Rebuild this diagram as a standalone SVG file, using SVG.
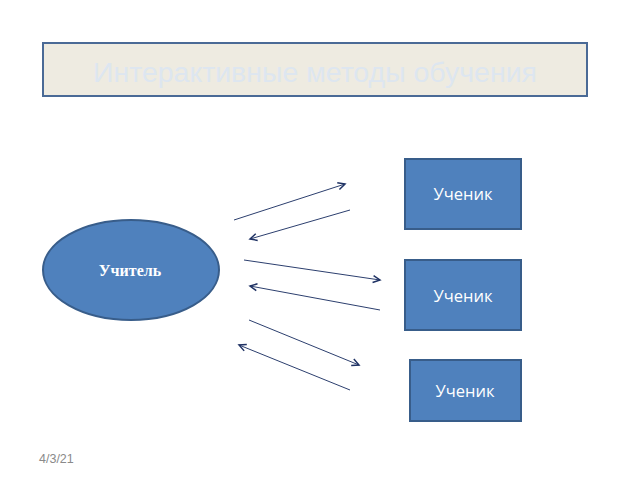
<svg xmlns="http://www.w3.org/2000/svg" width="640" height="480" viewBox="0 0 640 480">
<defs>
<marker id="ah" markerWidth="10" markerHeight="10" refX="8" refY="5" orient="auto" markerUnits="userSpaceOnUse">
<path d="M1,1.5 L8,5 L1,8.5" fill="none" stroke="#1F3264" stroke-width="1.5"/>
</marker>
</defs>
<style>
.conn{stroke:#2C3F6E;stroke-width:1;fill:none;marker-end:url(#ah)}
.box{fill:#4F81BD;stroke:#385D8A;stroke-width:2}
.lbl{fill:#FFFFFF;font-family:"Open Sans","DejaVu Sans",sans-serif;font-size:16.5px;text-anchor:middle}
</style>
<rect width="640" height="480" fill="#FFFFFF"/>
<g id="title">
<rect x="43" y="43" width="544" height="53" fill="#EEEBE1" stroke="#4A6A96" stroke-width="2"/>
<text x="315" y="82" font-family="'Liberation Sans',Arial,sans-serif" font-size="27" fill="#DDE6F0" text-anchor="middle" textLength="444" lengthAdjust="spacingAndGlyphs">Интерактивные методы обучения</text>
</g>
<g id="teacher">
<ellipse cx="131" cy="270" rx="88" ry="50" fill="#4F81BD" stroke="#385D8A" stroke-width="2"/>
<text x="130" y="276" font-family="'Liberation Serif','Times New Roman',serif" font-size="16" font-weight="bold" fill="#FFFFFF" text-anchor="middle">Учитель</text>
</g>
<g id="student1">
<rect class="box" x="405" y="159" width="116" height="70"/>
<text class="lbl" x="463" y="200">Ученик</text>
</g>
<g id="student2">
<rect class="box" x="405" y="260" width="116" height="70"/>
<text class="lbl" x="463" y="302">Ученик</text>
</g>
<g id="student3">
<rect class="box" x="410" y="360" width="111" height="61"/>
<text class="lbl" x="465" y="397">Ученик</text>
</g>
<g id="connectors">
<line class="conn" x1="234" y1="220" x2="345" y2="184"/>
<line class="conn" x1="350" y1="210" x2="250" y2="239"/>
<line class="conn" x1="244" y1="260" x2="380" y2="280"/>
<line class="conn" x1="380" y1="310" x2="250" y2="286"/>
<line class="conn" x1="249" y1="320" x2="359" y2="365"/>
<line class="conn" x1="350" y1="390" x2="239" y2="345"/>
</g>
<text x="39" y="463" font-family="'Liberation Sans',Arial,sans-serif" font-size="12.5" fill="#8A8A8A">4/3/21</text>
</svg>
